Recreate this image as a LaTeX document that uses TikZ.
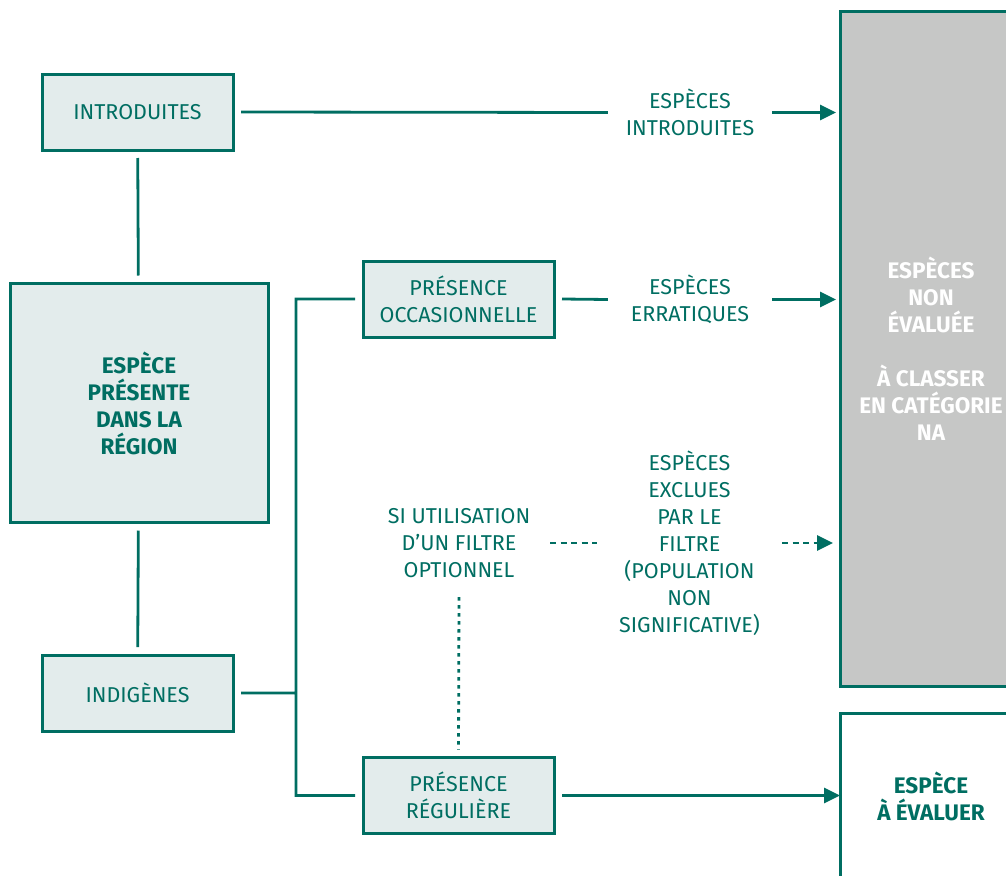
\documentclass[tikz,border=0pt]{standalone}
\usepackage{fontspec}
\setmainfont{Fira Sans}
\usepackage{tikz}
\usetikzlibrary{positioning, arrows.meta}
\definecolor{vert}{RGB}{0,110,98}
\definecolor{vertpale}{RGB}{227,236,236}
\definecolor{gris}{RGB}{198,199,198}

\begin{document}
\begin{tikzpicture}[x=1pt,y=-1pt,
    txt/.style={text=vert,align=center,font=\fontsize{21.5}{27}\selectfont},
    gras/.style={font=\bfseries\fontsize{22.5}{27}\selectfont},
    boite/.style={txt,draw=vert,line width=3pt,fill=vertpale,minimum width=191pt,minimum height=76pt,outer sep=8pt},
    lien/.style={draw=vert,line width=2.8pt},
    fleche/.style={lien,-{Triangle[length=16pt,width=15pt]}}]
    \useasboundingbox (0,0) rectangle (1006,875);
    \clip (0,0) rectangle (1006,875);
    % colonne de gauche
    \node[boite] (intro) at (137.5,112) {INTRODUITES};
    \node[boite,gras,minimum width=258pt,minimum height=239pt] (espece) at (139,403) {ESPÈCE\\PRÉSENTE\\DANS LA\\RÉGION};
    \node[boite] (indig) at (137.5,693) {INDIGÈNES};
    % colonne du milieu
    \node[boite] (occas) at (458.5,299) {PRÉSENCE\\OCCASIONNELLE};
    \node[boite] (regul) at (458.5,795.5) {PRÉSENCE\\RÉGULIÈRE};
    \node[txt,minimum width=182pt,minimum height=108pt] (filtre) at (459,543) {SI UTILISATION\\D’UN FILTRE\\OPTIONNEL};
    \coordinate (fourche) at (296,693);
    % etiquettes
    \node[txt,minimum width=164pt] (lblIntro) at (690,112.5) {ESPÈCES\\INTRODUITES};
    \node[txt,minimum width=164pt] (lblErr) at (690,299.5) {ESPÈCES\\ERRATIQUES};
    \node[txt,minimum width=185pt] (lblExcl) at (689.5,543) {ESPÈCES\\EXCLUES\\PAR LE\\FILTRE\\(POPULATION\\NON\\SIGNIFICATIVE)};
    % colonne de droite
    \node[gras,draw=vert,line width=3pt,fill=gris,text=white,align=center,minimum width=182pt,minimum height=674pt,outer sep=0pt] (na) at (931,349) {ESPÈCES\\NON\\ÉVALUÉE\\[27pt]À CLASSER\\EN CATÉGORIE\\NA};
    \node[gras,draw=vert,line width=3pt,fill=white,text=vert,align=center,minimum width=182pt,minimum height=166pt,outer sep=0pt] (eval) at (931,796) {ESPÈCE\\À ÉVALUER};
    % liens
    \path[lien]
        (intro) -- (espece)
        (espece) -- (indig)
        (indig.east) -- (fourche)
        (fourche) |- (occas.west)
        (fourche) |- (regul.west)
        (intro.east) -- (lblIntro.west)
        (occas.east) -- (lblErr.west);
    \draw[fleche,shorten >=4pt] (lblIntro.east) -- (lblIntro.east -| na.west);
    \draw[fleche,shorten >=4pt] (lblErr.east) -- (lblErr.east -| na.west);
    \draw[fleche] (regul.east) -- (regul.east -| eval.west);
    \draw[lien,dash pattern=on 6pt off 4.5pt] (filtre.east) -- (lblExcl.west);
    \draw[fleche,dash pattern=on 6pt off 4.5pt,shorten >=7pt] (lblExcl.east) -- (lblExcl.east -| na.west);
    \draw[lien,dash pattern=on 3.5pt off 4.5pt] (filtre.south) -- (regul.north);
\end{tikzpicture}
\end{document}
